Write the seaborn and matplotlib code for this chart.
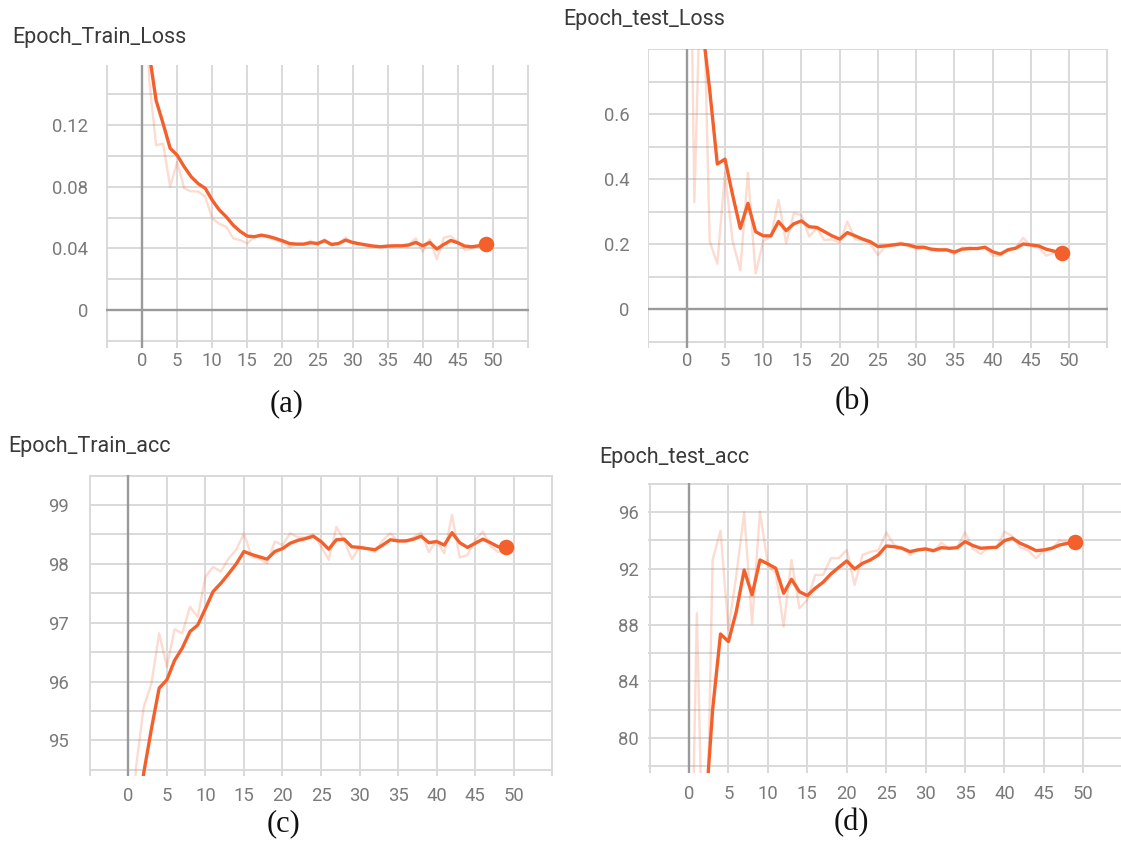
import matplotlib
matplotlib.use("Agg")
import matplotlib.pyplot as plt
from matplotlib.ticker import FixedLocator
import seaborn as sns

# ---------------------------------------------------------------- data
epochs = list(range(50))

train_loss_raw = [0.26, 0.15, 0.107, 0.108, 0.080, 0.096, 0.079, 0.077, 0.077, 0.0735,
                  0.0595, 0.056, 0.054, 0.0465, 0.0454, 0.0432, 0.0476, 0.049, 0.047, 0.0455,
                  0.044, 0.041, 0.0425, 0.0425, 0.045, 0.042, 0.046, 0.042, 0.043, 0.047,
                  0.043, 0.0425, 0.0415, 0.041, 0.041, 0.0418, 0.0418, 0.0415, 0.0425, 0.0465,
                  0.038, 0.046, 0.033, 0.047, 0.048, 0.044, 0.039, 0.040, 0.042, 0.043]
train_loss_smooth = [0.26, 0.167, 0.136, 0.121, 0.105, 0.1005, 0.093, 0.0865, 0.082, 0.079,
                     0.0713, 0.065, 0.0605, 0.055, 0.051, 0.048, 0.0476, 0.0486, 0.0478, 0.0465,
                     0.045, 0.0432, 0.0428, 0.0428, 0.0437, 0.0432, 0.045, 0.0426, 0.0432, 0.0454,
                     0.0439, 0.043, 0.0422, 0.0415, 0.0411, 0.0415, 0.0417, 0.0417, 0.0422, 0.0439,
                     0.0417, 0.0439, 0.0396, 0.0426, 0.0452, 0.0437, 0.0415, 0.0411, 0.0417, 0.0428]

test_loss_raw = [2.0, 0.33, 1.2, 0.21, 0.14, 0.42, 0.21, 0.12, 0.42, 0.11,
                 0.21, 0.224, 0.336, 0.203, 0.295, 0.29, 0.224, 0.249, 0.213, 0.215,
                 0.205, 0.27, 0.215, 0.215, 0.20, 0.167, 0.195, 0.20, 0.205, 0.195,
                 0.185, 0.19, 0.18, 0.18, 0.18, 0.17, 0.19, 0.19, 0.185, 0.19,
                 0.165, 0.165, 0.185, 0.19, 0.22, 0.195, 0.19, 0.165, 0.175, 0.17]
test_loss_smooth = [1.5, 1.1, 0.88, 0.675, 0.447, 0.462, 0.352, 0.249, 0.326, 0.239,
                    0.226, 0.226, 0.270, 0.242, 0.263, 0.272, 0.254, 0.252, 0.239, 0.226,
                    0.216, 0.236, 0.226, 0.216, 0.208, 0.193, 0.195, 0.198, 0.201, 0.198,
                    0.191, 0.191, 0.185, 0.183, 0.183, 0.176, 0.185, 0.187, 0.187, 0.191,
                    0.177, 0.170, 0.183, 0.188, 0.201, 0.198, 0.195, 0.185, 0.179, 0.174]

train_acc_raw = [92.0, 94.55, 95.57, 95.97, 96.82, 96.25, 96.89, 96.82, 97.27, 97.10,
                 97.78, 97.95, 97.87, 98.09, 98.24, 98.52, 98.12, 98.09, 98.01, 98.38,
                 98.32, 98.52, 98.45, 98.45, 98.50, 98.30, 98.07, 98.63, 98.40, 98.08,
                 98.28, 98.26, 98.20, 98.40, 98.52, 98.38, 98.38, 98.45, 98.53, 98.20,
                 98.40, 98.18, 98.83, 98.11, 98.15, 98.40, 98.55, 98.30, 98.20, 98.27]
train_acc_smooth = [92.0, 93.5, 94.45, 95.2, 95.89, 96.03, 96.36, 96.57, 96.85, 96.96,
                    97.24, 97.53, 97.67, 97.83, 98.00, 98.21, 98.16, 98.12, 98.08, 98.21,
                    98.26, 98.35, 98.40, 98.43, 98.47, 98.38, 98.25, 98.41, 98.42, 98.29,
                    98.28, 98.26, 98.24, 98.32, 98.41, 98.39, 98.39, 98.42, 98.47, 98.36,
                    98.38, 98.32, 98.53, 98.36, 98.28, 98.35, 98.42, 98.36, 98.29, 98.29]

test_acc_raw = [60.0, 88.84, 65.0, 92.62, 94.70, 87.65, 91.50, 96.00, 88.10, 96.05,
                92.26, 91.67, 87.90, 92.62, 89.19, 89.78, 91.56, 91.56, 92.74, 92.74,
                93.33, 90.85, 92.97, 93.20, 93.30, 94.56, 93.70, 93.50, 92.97, 93.40,
                93.45, 93.20, 93.85, 93.40, 93.50, 94.58, 93.40, 93.05, 93.50, 93.50,
                94.63, 94.30, 93.50, 93.30, 92.74, 93.30, 93.40, 94.00, 93.90, 93.90]
test_acc_smooth = [60.0, 68.0, 74.0, 82.0, 87.37, 86.83, 88.96, 91.91, 90.14, 92.62,
                   92.34, 92.03, 90.26, 91.25, 90.37, 90.09, 90.61, 91.04, 91.63, 92.10,
                   92.55, 91.98, 92.38, 92.62, 92.97, 93.61, 93.56, 93.45, 93.21, 93.33,
                   93.40, 93.28, 93.49, 93.45, 93.49, 93.92, 93.64, 93.45, 93.49, 93.52,
                   93.99, 94.16, 93.80, 93.56, 93.28, 93.33, 93.45, 93.68, 93.80, 93.87]

x_ticks = list(range(0, 51, 5))

panels = [
    dict(title="Epoch_Train_Loss", caption="(a)", raw=train_loss_raw, smooth=train_loss_smooth,
         yticks=[0, 0.04, 0.08, 0.12], ylabels=["0", "0.04", "0.08", "0.12"],
         ygrid=[-0.02, 0.02, 0.06, 0.10, 0.14], ylim=(-0.0246, 0.159), xlim=(-5.14, 55.14),
         box=(106, 65, 529, 348), title_xy=(12, 37), cap_xy=(287, 404), ypad=13, xpad=3),
    dict(title="Epoch_test_Loss", caption="(b)", raw=test_loss_raw, smooth=test_loss_smooth,
         yticks=[0, 0.2, 0.4, 0.6], ylabels=["0", "0.2", "0.4", "0.6"],
         ygrid=[-0.1, 0.1, 0.3, 0.5, 0.7, 0.8], ylim=(-0.119, 0.802), xlim=(-5.13, 55.13),
         box=(647.5, 48.6, 1108.4, 348), title_xy=(563, 20), cap_xy=(852, 402), ypad=13, xpad=3),
    dict(title="Epoch_Train_acc", caption="(c)", raw=train_acc_raw, smooth=train_acc_smooth,
         yticks=[95, 96, 97, 98, 99], ylabels=["95", "96", "97", "98", "99"],
         ygrid=[94.5, 95.5, 96.5, 97.5, 98.5, 99.5], ylim=(94.4, 99.51), xlim=(-5.13, 55.13),
         box=(88.8, 475, 553.2, 775.8), title_xy=(8, 447), cap_xy=(283, 824), ypad=14, xpad=8),
    dict(title="Epoch_test_acc", caption="(d)", raw=test_acc_raw, smooth=test_acc_smooth,
         yticks=[80, 84, 88, 92, 96], ylabels=["80", "84", "88", "92", "96"],
         ygrid=[78, 82, 86, 90, 94, 98], ylim=(77.48, 98.05), xlim=(-5.13, 54.77),
         box=(648.5, 483.4, 1121, 773.4), title_xy=(599, 457), cap_xy=(851, 823), ypad=7, xpad=8),
]

# ---------------------------------------------------------------- style
sns.set_theme(style="white")
plt.rcParams["font.family"] = ["Roboto", "DejaVu Sans"]

LINE = "#f4602c"
GRID = "#d9d9d9"
ZERO = "#9a9a9a"
TICK = "#7a7a7a"

W, H = 1121, 849
fig = plt.figure(figsize=(W / 100, H / 100), dpi=100)

for p in panels:
    l, t, r, b = p["box"]
    ax = fig.add_axes([l / W, 1 - b / H, (r - l) / W, (b - t) / H])
    ax.set_xlim(*p["xlim"])
    ax.set_ylim(*p["ylim"])

    # grid: labelled positions as major ticks, the rest as minor ticks
    ax.xaxis.set_major_locator(FixedLocator(x_ticks))
    ax.xaxis.set_minor_locator(FixedLocator([-5, 55]))
    ax.yaxis.set_major_locator(FixedLocator(p["yticks"]))
    ax.yaxis.set_minor_locator(FixedLocator(p["ygrid"]))
    ax.set_yticklabels(p["ylabels"])
    ax.grid(which="both", color=GRID, linewidth=1.4, zorder=0)
    ax.set_axisbelow(True)
    for s in ax.spines.values():
        s.set_visible(False)
    ax.tick_params(which="both", length=0, labelsize=13.3, labelcolor=TICK)
    ax.tick_params(axis="y", pad=p["ypad"])
    ax.tick_params(axis="x", pad=p["xpad"])

    ax.axvline(0, color=ZERO, linewidth=1.7, zorder=1)
    if p["ylim"][0] < 0:
        ax.axhline(0, color=ZERO, linewidth=1.7, zorder=1)

    sns.lineplot(x=epochs, y=p["raw"], ax=ax, color=LINE, alpha=0.22, linewidth=1.7, zorder=2)
    sns.lineplot(x=epochs, y=p["smooth"], ax=ax, color=LINE, linewidth=2.4, zorder=3)
    sns.scatterplot(x=[epochs[-1]], y=[p["smooth"][-1]], ax=ax, color=LINE, s=125,
                    linewidth=0, zorder=4)
    ax.set_xlabel("")
    ax.set_ylabel("")

    fig.text(p["title_xy"][0] / W, 1 - p["title_xy"][1] / H, p["title"], fontsize=15.5,
             color="#3a3a3a", ha="left", va="center")
    fig.text(p["cap_xy"][0] / W, 1 - p["cap_xy"][1] / H, p["caption"], fontsize=22,
             family=["Liberation Serif", "DejaVu Serif"], color="#111111",
             ha="center", va="center")

fig.savefig("out.png", dpi=100, facecolor="white")
